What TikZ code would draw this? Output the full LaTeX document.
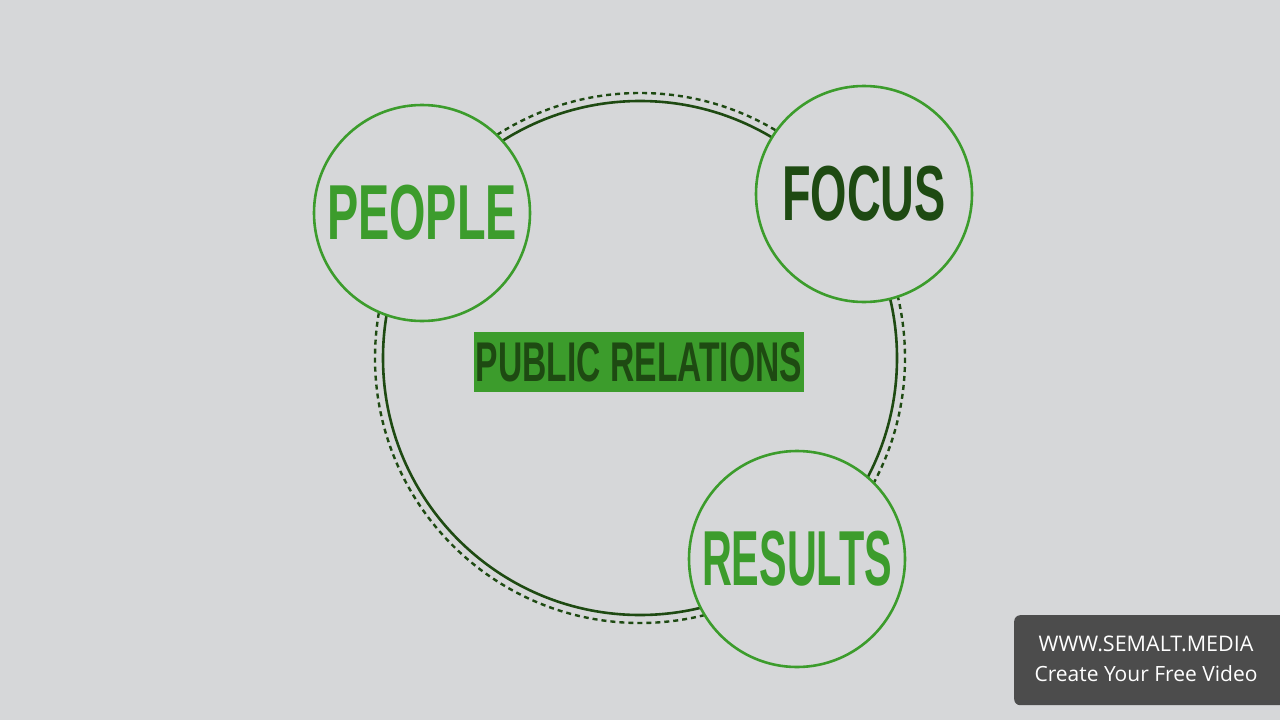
\documentclass[tikz,border=0pt]{standalone}
\usepackage{fontspec}
\setmainfont{Liberation Sans}
\newfontfamily\wmfont{Open Sans}
\definecolor{bg}{HTML}{D6D7D9}
\definecolor{gr}{HTML}{3C9C2C}
\definecolor{dg}{HTML}{1E4A12}
\begin{document}
\begin{tikzpicture}[x=1pt,y=-1pt,
  bub/.style={circle,draw=gr,line width=2.6pt,fill=bg,minimum size=216pt,inner sep=0pt},
  big/.style={font=\fontsize{78}{78}\selectfont\bfseries}]
\fill[bg] (0,0) rectangle (1280,720);
\useasboundingbox (0,0) rectangle (1280,720);
\node (c) at (640,358) {};
\draw[dg,line width=2.6pt] (c) circle[radius=257];
\draw[dg,line width=2.4pt,dash pattern=on 5pt off 4pt] (c) circle[radius=265];
\node[bub] (p) at (422,213) {};
\node[bub] (f) at (864,194) {};
\node[bub] (r) at (797,559) {};
\node[text=gr,big] at (p) {\scalebox{0.6}[1]{PEOPLE}};
\node[text=dg,big] at (f) {\scalebox{0.6}[1]{FOCUS}};
\node[text=gr,big] at (r) {\scalebox{0.53}[1]{RESULTS}};
\node[fill=gr,minimum width=330pt,minimum height=60pt,inner sep=0pt,text=dg,
  font=\fontsize{56}{56}\selectfont\bfseries] (pr) at (639,362) {\scalebox{0.6}[1]{PUBLIC RELATIONS}};
\node[fill=black!70,rounded corners=6pt,minimum width=280pt,minimum height=90pt,anchor=north west] (wm) at (1014,615) {};
\node[text=white,font=\wmfont\fontsize{21.5}{21.5}\selectfont] at (1146,644) {WWW.SEMALT.MEDIA};
\node[text=white,font=\wmfont\fontsize{21}{21}\selectfont] at (1146,674) {Create Your Free Video};
\end{tikzpicture}
\end{document}
